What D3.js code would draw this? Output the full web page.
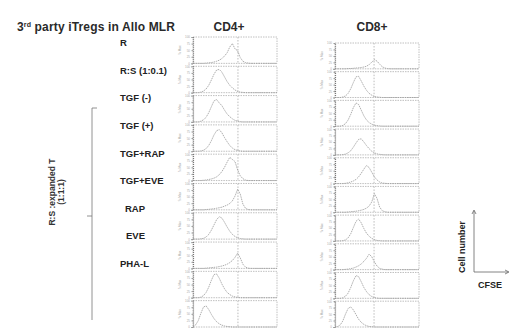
<!DOCTYPE html>
<html>
<head>
<meta charset="utf-8">
<script src="https://cdn.jsdelivr.net/npm/d3@7"></script>
<style>
  body { margin: 0; background: #fff; }
  text { font-family: "Liberation Sans", Arial, sans-serif; }
</style>
</head>
<body>
<script>
    // Width and height
    var w = 509;
    var h = 329;

    // Row labels (last row has none)
    var rowLabels = ["R", "R:S (1:0.1)", "TGF (-)", "TGF (+)", "TGF+RAP", "TGF+EVE", "RAP", "EVE", "PHA-L", ""];
    var labelIndent = [0, 0, 0, 0, 0, 0, 5, 6, 0, 0];

    // CFSE channels (bin positions)
    var channels = d3.range(0, 257, 8);

    // gate position (CFSE channel) for each column
    var gateCD4 = 137;
    var gateCD8 = 119;

    // histograms, % of max, one per row
    var cd4 = [
      [0,0,0,0,0,1,2,3,5,8,12,18,28,40,62,75,55,48,22,8,3,1,0,0,0,0,0,0,0,0,0,0,0],
      [0,0,0,2,6,14,28,48,70,86,88,78,60,42,28,18,10,5,2,1,0,0,0,0,0,0,0,0,0,0,0,0,0],
      [0,0,0,3,8,18,35,58,80,85,72,62,45,30,20,12,6,3,1,0,0,0,0,0,0,0,0,0,0,0,0,0,0],
      [0,0,0,1,4,10,22,40,62,78,82,70,52,36,22,12,6,3,1,0,0,0,0,0,0,0,0,0,0,0,0,0,0],
      [0,0,0,0,1,2,4,6,9,14,22,34,50,70,88,80,72,40,18,7,2,0,0,0,0,0,0,0,0,0,0,0,0],
      [0,0,0,0,0,1,2,3,4,6,8,10,14,18,24,34,52,78,60,22,6,1,0,0,0,0,0,0,0,0,0,0,0],
      [0,0,0,1,3,8,18,34,54,74,85,80,64,46,30,18,10,5,2,1,0,0,0,0,0,0,0,0,0,0,0,0,0],
      [0,0,0,0,0,1,2,3,4,5,7,9,12,16,22,30,42,58,40,16,5,1,0,0,0,0,0,0,0,0,0,0,0],
      [0,0,0,2,8,20,40,66,88,90,74,52,34,20,12,6,3,1,0,0,0,0,0,0,0,0,0,0,0,0,0,0,0],
      [2,8,24,52,76,80,66,48,32,20,12,7,4,2,1,0,0,0,0,0,0,0,0,0,0,0,0,0,0,0,0,0,0]
    ];

    var cd8 = [
      [0,0,0,0,0,1,1,2,3,4,5,7,10,16,26,35,30,18,8,3,1,0,0,0,0,0,0,0,0,0,0,0,0],
      [0,0,0,2,6,16,34,58,80,82,64,44,28,16,9,4,2,1,0,0,0,0,0,0,0,0,0,0,0,0,0,0,0],
      [0,0,0,3,10,24,46,72,90,84,62,40,24,14,8,4,2,1,0,0,0,0,0,0,0,0,0,0,0,0,0,0,0],
      [0,0,0,1,3,8,16,30,46,60,62,50,36,24,14,8,4,2,1,0,0,0,0,0,0,0,0,0,0,0,0,0,0],
      [0,0,0,0,1,3,6,10,16,26,40,56,70,62,44,26,14,6,2,1,0,0,0,0,0,0,0,0,0,0,0,0,0],
      [0,0,0,0,0,1,2,3,4,6,8,11,16,24,40,72,54,20,6,2,0,0,0,0,0,0,0,0,0,0,0,0,0],
      [0,0,0,1,4,12,28,52,76,85,70,48,30,18,10,5,2,1,0,0,0,0,0,0,0,0,0,0,0,0,0,0,0],
      [0,0,0,0,1,2,4,6,10,15,22,32,44,60,50,30,14,5,2,0,0,0,0,0,0,0,0,0,0,0,0,0,0],
      [0,0,0,2,8,20,42,68,88,84,64,42,26,14,7,3,1,0,0,0,0,0,0,0,0,0,0,0,0,0,0,0,0],
      [0,2,8,24,50,72,78,66,48,30,18,10,5,2,1,0,0,0,0,0,0,0,0,0,0,0,0,0,0,0,0,0,0]
    ];

    // Create SVG element
    var svg = d3.select("body")
        .append("svg")
        .attr("width", w)
        .attr("height", h);

    // Titles
    svg.append("text")
        .attr("x", 17).attr("y", 31)
        .attr("font-size", 12)
        .attr("font-weight", "bold")
        .attr("fill", "#2a2a2a")
        .attr("textLength", 158)
        .html('3<tspan font-size="7" dy="-4">rd</tspan><tspan dy="4"> party iTregs in Allo MLR</tspan>');

    svg.append("text").attr("x", 229).attr("y", 31).attr("text-anchor", "middle")
        .attr("font-size", 12).attr("font-weight", "bold").attr("fill", "#2a2a2a").text("CD4+");
    svg.append("text").attr("x", 372).attr("y", 31).attr("text-anchor", "middle")
        .attr("font-size", 12).attr("font-weight", "bold").attr("fill", "#2a2a2a").text("CD8+");

    // Row labels
    var labelY = d3.scaleLinear().domain([0, 8]).range([46, 267]);
    svg.append("g").selectAll("text")
        .data(rowLabels)
        .enter().append("text")
        .attr("x", (d, i) => 120 + labelIndent[i])
        .attr("y", (d, i) => labelY(i))
        .attr("font-size", 9.5)
        .attr("font-weight", "bold")
        .attr("fill", "#222")
        .text(d => d);

    // Bracket for expanded T rows
    var br = svg.append("g").attr("fill", "none").attr("stroke", "#777").attr("stroke-width", 0.8);
    br.append("path").attr("d", "M97,108 L92,108 L92,320");
    br.append("path").attr("d", "M92,216 L87,216");

    var brText = svg.append("text")
        .attr("transform", "translate(55,192) rotate(-90)")
        .attr("text-anchor", "middle")
        .attr("font-size", 8.5)
        .attr("font-weight", "bold")
        .attr("fill", "#333");
    brText.append("tspan").attr("x", 0).attr("y", 0).text("R:S :expanded T");
    brText.append("tspan").attr("x", 0).attr("y", 9).text("(1:1:1)");

    // Panels
    function drawColumn(data, x0, x1, y0, y1, gate) {
        var rows = d3.scaleBand().domain(d3.range(data.length)).range([y0, y1]).paddingInner(0.1);
        var x = d3.scaleLinear().domain([0, 256]).range([x0, x1]);

        data.forEach(function (counts, i) {
            var top = rows(i), bot = rows(i) + rows.bandwidth();
            var y = d3.scaleLinear().domain([0, 100]).range([bot, top]);
            var g = svg.append("g");

            // frame
            g.append("rect")
                .attr("x", x0).attr("y", top)
                .attr("width", x1 - x0).attr("height", bot - top)
                .attr("fill", "none")
                .attr("stroke", "#b0b0b0")
                .attr("stroke-width", 0.8)
                .attr("stroke-dasharray", "1.5,1");

            // y axis
            var ax = g.append("g")
                .attr("transform", `translate(${x0},0)`)
                .call(d3.axisLeft(y).tickValues([0, 25, 50, 75, 100]).tickSize(1.5).tickFormat(d => d));
            ax.select(".domain").attr("stroke", "#777").attr("stroke-width", 1.2).attr("stroke-dasharray", "1,1");
            ax.selectAll(".tick line").attr("stroke", "#999");
            ax.selectAll(".tick text")
                .attr("font-size", 3)
                .attr("fill", "#aaa")
                .attr("x", -3);

            g.append("text")
                .attr("transform", `translate(${x0 - 12},${(top + bot) / 2}) rotate(-90)`)
                .attr("text-anchor", "middle")
                .attr("font-size", 3)
                .attr("fill", "#aaa")
                .text("% Max");

            // gate line
            g.append("line")
                .attr("x1", x(gate)).attr("x2", x(gate))
                .attr("y1", top).attr("y2", bot)
                .attr("stroke", "#aaa")
                .attr("stroke-width", 0.8)
                .attr("stroke-dasharray", "1.5,1.5");

            // histogram
            g.append("path")
                .datum(counts)
                .attr("fill", "none")
                .attr("stroke", "#999")
                .attr("stroke-width", 0.8)
                .attr("stroke-dasharray", "1.5,0.8")
                .attr("d", d3.line().x((d, k) => x(channels[k])).y(d => y(d)));
        });
    }

    drawColumn(cd4, 193, 277, 37, 327, gateCD4);
    drawColumn(cd8, 335, 419, 43, 327, gateCD8);

    // Cell number / CFSE key
    var key = svg.append("g").attr("stroke", "#666").attr("stroke-width", 0.8).attr("fill", "none");
    key.append("path").attr("d", "M474,272 L474,211");
    key.append("path").attr("d", "M472,214 L474,210 L476,214");
    key.append("path").attr("d", "M474,272 L508,272");
    key.append("path").attr("d", "M505,270 L509,272 L505,274");

    svg.append("text")
        .attr("transform", "translate(465,247) rotate(-90)")
        .attr("text-anchor", "middle")
        .attr("font-size", 9)
        .attr("font-weight", "bold")
        .attr("fill", "#222")
        .text("Cell number");
    svg.append("text")
        .attr("x", 490).attr("y", 288)
        .attr("text-anchor", "middle")
        .attr("font-size", 9)
        .attr("font-weight", "bold")
        .attr("fill", "#222")
        .text("CFSE");
</script>
</body>
</html>
